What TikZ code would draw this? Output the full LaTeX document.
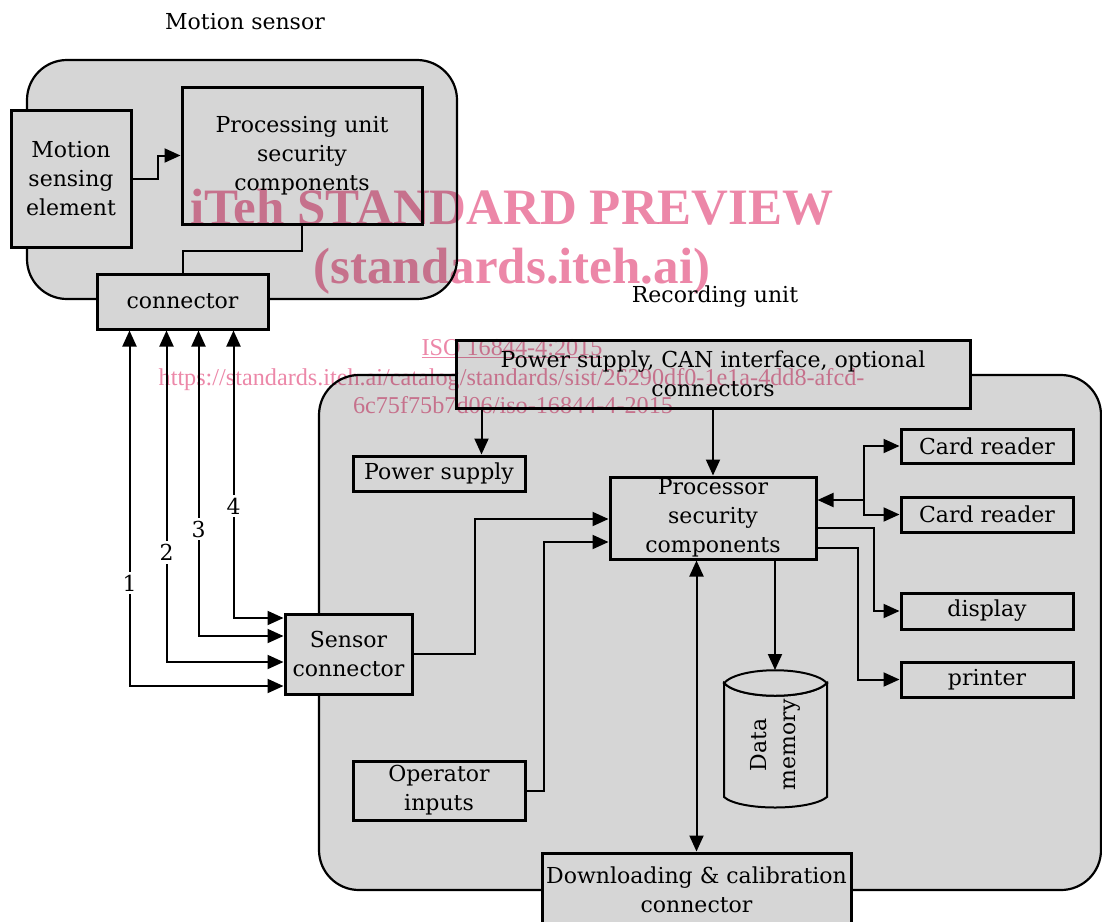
\documentclass[tikz,border=0pt]{standalone}
\usepackage{fontspec}
\setmainfont{DejaVu Serif}
\newfontfamily\wmfont{Liberation Serif}
\usetikzlibrary{arrows.meta,calc}
\definecolor{boxgray}{RGB}{214,214,214}
\definecolor{wmpink}{RGB}{236,135,168}
\begin{document}
\begin{tikzpicture}[x=1pt,y=-1pt,
  every node/.style={font=\fontsize{22}{29}\selectfont},
  box/.style={draw, fill=boxgray, line width=3pt, inner sep=0pt, align=center},
  grp/.style={draw, fill=boxgray, line width=2.2pt, rounded corners=40pt},
  conn/.style={line width=2pt},
  arr/.style={conn, -{Triangle[length=16pt,width=14pt]}},
  dbl/.style={conn, {Triangle[length=16pt,width=14pt]}-{Triangle[length=16pt,width=14pt]}},
  lbl/.style={fill=white, inner sep=3pt},
  wmbig/.style={text=wmpink, font=\wmfont\bfseries\fontsize{51}{58}\selectfont, anchor=base},
  wmsmall/.style={text=wmpink, font=\wmfont\fontsize{24.2}{28}\selectfont, anchor=base}
]
\useasboundingbox (0,0) rectangle (1102,921);

% titles
\node[anchor=base] (t1) at (245,29) {Motion sensor};
\node[anchor=base] (t2) at (715,302) {Recording unit};

% group frames
\draw[grp] (27,60) rectangle (457,299);
\draw[grp] (319,375) rectangle (1101,890);

% motion sensor boxes
\node[box, minimum width=120pt, minimum height=137pt] (mse) at (71,178.5) {Motion\\sensing\\element};
\node[box, minimum width=240pt, minimum height=137pt] (pu) at (302,155.5) {Processing unit\\security\\components};
\node[box, minimum width=171pt, minimum height=55pt] (cn) at (182.5,301.5) {connector};

% recording unit boxes
\node[box, minimum width=514pt, minimum height=68pt] (can) at (713,374) {Power supply, CAN interface, optional\\connectors};
\node[box, minimum width=172pt, minimum height=35pt] (ps) at (439,473.5) {Power supply};
\node[box, minimum width=206pt, minimum height=82pt] (proc) at (713,518) {Processor\\security\\components};
\node[box, minimum width=127pt, minimum height=80pt] (sc) at (348.5,654) {Sensor\\connector};
\node[box, minimum width=172pt, minimum height=59pt] (op) at (439,790.5) {Operator\\inputs};
\node[box, minimum width=172pt, minimum height=34pt] (cr1) at (987,446) {Card reader};
\node[box, minimum width=172pt, minimum height=35pt] (cr2) at (987,514.5) {Card reader};
\node[box, minimum width=172pt, minimum height=36pt] (disp) at (987,611) {display};
\node[box, minimum width=172pt, minimum height=35pt] (prn) at (987,679.5) {printer};
\node[box, minimum width=309pt, minimum height=73pt] (dl) at (696.5,889.5) {Downloading \& calibration\\connector};

% data memory cylinder
\draw[fill=boxgray, line width=2pt]
  (724,683) .. controls (740,700) and (810,700) .. (827,683)
  -- (827,797) .. controls (810,811) and (740,811) .. (724,797) -- cycle;
\draw[fill=boxgray, line width=2pt]
  (724,683) .. controls (740,666) and (810,666) .. (827,683)
  .. controls (810,700) and (740,700) .. (724,683) -- cycle;
\coordinate (memtop) at (775,670);
\node[rotate=90, align=center, inner sep=0pt] (mem) at (775,745) {Data\\memory};

% motion sensor connectors
\draw[arr] (mse.east) -- ++(25,0) |- (pu.west);
\draw[conn] (pu.south) -- ++(0,25) -| (cn.north);

% sensor lines 1-4
\draw[dbl] ($(cn.south west)+(34,0)$) |- node[lbl,pos=0.355]{1} ($(sc.west)+(0,32)$);
\draw[dbl] ($(cn.south west)+(71,0)$) |- node[lbl,pos=0.335]{2} ($(sc.west)+(0,8)$);
\draw[dbl] ($(cn.south west)+(103,0)$) |- node[lbl,pos=0.325]{3} ($(sc.west)+(0,-18)$);
\draw[dbl] ($(cn.south west)+(138,0)$) |- node[lbl,pos=0.305]{4} ($(sc.west)+(0,-36)$);

% recording unit connectors
\draw[arr] ($(can.south west)+(27,0)$) -- ($(ps.north west)+(130,0)$);
\draw[arr] (can.south) -- (proc.north);
\draw[arr] (sc.east) -- ++(61,0) |- ($(proc.west)+(0,1)$);
\draw[arr] (op.east) -- ++(17,0) |- ($(proc.west)+(0,24)$);
\coordinate (J) at ($(proc.east)+(46,-18)$);
\draw[arr] (J) -- ($(proc.east)+(0,-18)$);
\draw[arr] (J) |- (cr1.west);
\draw[arr] (J) |- (cr2.west);
\draw[arr] ($(proc.east)+(0,10)$) -- ++(56,0) |- (disp.west);
\draw[arr] ($(proc.east)+(0,30)$) -- ++(40,0) |- (prn.west);
\draw[arr] ($(proc.south)+(62,0)$) -- (memtop);
\draw[dbl] (dl.north) -- (dl.north |- proc.south);

% watermark
\begin{scope}[blend mode=multiply]
\node[wmbig] (w1) at (512,224) {iTeh STANDARD PREVIEW};
\node[wmbig] (w2) at (512,283) {(standards.iteh.ai)};
\node[wmsmall] (w3) at (512,355) {\underline{ISO 16844-4:2015}};
\node[wmsmall] (w4) at (511.5,385) {https://standards.iteh.ai/catalog/standards/sist/26290df0-1e1a-4dd8-afcd-};
\node[wmsmall] (w5) at (513,413) {6c75f75b7d06/iso-16844-4-2015};
\end{scope}
\end{tikzpicture}
\end{document}
